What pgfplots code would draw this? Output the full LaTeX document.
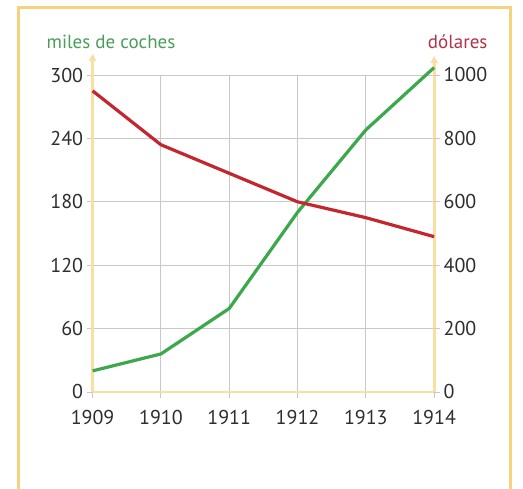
\documentclass[border=0pt]{standalone}
\usepackage{fontspec}
\setmainfont{PT Sans}
\usepackage{pgfplots}
\pgfplotsset{compat=1.18}
\usetikzlibrary{arrows.meta}
\definecolor{frameY}{HTML}{F6D27C}
\definecolor{axisY}{HTML}{F9DFA0}
\definecolor{gridG}{HTML}{C8C8C8}
\definecolor{carG}{HTML}{3BA84B}
\definecolor{priceR}{HTML}{C4262F}
\definecolor{labG}{HTML}{4B9D5A}
\definecolor{labR}{HTML}{B03447}
\definecolor{tickT}{HTML}{2E2E2E}
\pgfplotsset{
  base/.style={
    at={(92.6pt,-392pt)}, anchor=south west, scale only axis,
    width=341.5pt, height=317pt,
    xmin=1909, xmax=1914,
    xtick={1909,1910,1911,1912,1913,1914},
    clip=false,
    axis line style={draw=none},
    tick style={gridG, line width=0.9pt},
    major tick length=6pt, tick align=outside,
    ticklabel style={font=\fontsize{20}{22}\selectfont, text=tickT},
    x tick label style={yshift=-9pt},
    /pgf/number format/assume math mode=true,
    /pgf/number format/1000 sep={},
  }
}
\begin{document}
\begin{tikzpicture}[x=1pt,y=1pt]
\path[use as bounding box] (0,0) rectangle (523,-489);
\fill[white] (0,0) rectangle (523,-489);
\draw[frameY, line width=2.2pt] (18.5,-7.5) rectangle (510.5,-530);
\node[anchor=base, text=labG, font=\fontsize{19}{21}\selectfont] at (111,-49) {miles de coches};
\node[anchor=base east, text=labR, font=\fontsize{19}{21}\selectfont] at (491,-49) {dólares};
% left axis: cars
\begin{axis}[base,
  ymin=0, ymax=300, ytick={0,60,120,180,240,300},
  axis x line*=bottom, axis y line*=left,
  grid=major, major grid style={gridG, line width=0.9pt},
]
\draw[axisY, line width=2.8pt] (axis cs:1909,0) -- (axis cs:1914,0);
\draw[axisY, line width=2.8pt, -{Triangle[length=7pt,width=7pt]}] (axis cs:1909,0) -- (axis cs:1909,320);
\draw[axisY, line width=2.8pt, -{Triangle[length=7pt,width=7pt]}] (axis cs:1914,0) -- (axis cs:1914,318);
\addplot[carG, line width=3.2pt, line join=round] coordinates {
  (1909,20) (1910,36) (1911,79) (1912,170) (1913,248) (1914,307)
};
\end{axis}
% right axis: price
\begin{axis}[base,
  ymin=0, ymax=1000, ytick={0,200,400,600,800,1000},
  axis y line*=right, axis x line=none,
]
\addplot[priceR, line width=3.2pt, line join=round] coordinates {
  (1909,950) (1910,780) (1911,690) (1912,600) (1913,550) (1914,490)
};
\end{axis}
\end{tikzpicture}
\end{document}
